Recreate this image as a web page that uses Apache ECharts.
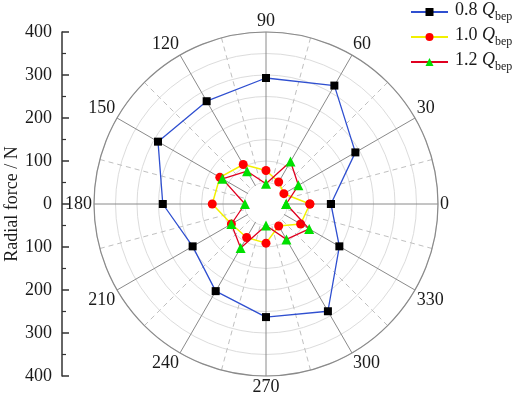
<!DOCTYPE html>
<html>
<head>
<meta charset="utf-8">
<script src="https://cdn.jsdelivr.net/npm/echarts@6/dist/echarts.min.js"></script>
<style>
  html, body { margin: 0; padding: 0; background: #fff; }
  #main { width: 519px; height: 396px; }
</style>
</head>
<body>
<div id="main"></div>
<script>
var FONT = "'Times New Roman', 'Liberation Serif', serif";

// angles in degrees, last one closes the loop
var angles = [0, 30, 60, 90, 120, 150, 180, 210, 240, 270, 300, 330, 360];
var flow08 = [151, 240, 318, 293, 276, 290, 240, 197, 234, 263, 288, 197, 151];
var flow10 = [102, 48, 59, 78, 106, 124, 125, 93, 90, 91, 59, 93, 102];
var flow12 = [47, 87, 114, 47, 88, 117, 49, 93, 118, 50, 95, 116, 47];
var seriesNames = ['0.8', '1.0', '1.2'];

function toPolar(vals){
  var out = [];
  for (var i = 0; i < vals.length; i++) {
    out.push([vals[i], angles[i]]);
  }
  return out;
}

var chart = echarts.init(document.getElementById('main'));

var option = {
  animation: false,
  backgroundColor: '#fff',
  textStyle: { fontFamily: FONT },
  legend: {
    orient: 'vertical',
    left: 410,
    top: 1,
    padding: 0,
    itemWidth: 37,
    itemHeight: 10,
    itemGap: 3,
    data: seriesNames,
    formatter: function(name){
      return '{n|' + name + ' }{q|Q}{s|bep}';
    },
    textStyle: {
      fontFamily: FONT,
      color: '#1a1a1a',
      padding: [0, 0, 0, 2],
      rich: {
        n: { fontSize: 18, fontFamily: FONT, color: '#1a1a1a', verticalAlign: 'top', lineHeight: 22 },
        q: { fontSize: 18, fontFamily: FONT, fontStyle: 'italic', color: '#1a1a1a', verticalAlign: 'top', lineHeight: 22 },
        s: { fontSize: 12, fontFamily: FONT, color: '#1a1a1a', verticalAlign: 'bottom', lineHeight: 22 }
      }
    }
  },
  grid: {
    left: 62,
    top: 32,
    height: 344,
    width: 1
  },
  xAxis: { type: 'value', show: false },
  yAxis: {
    type: 'value',
    min: -400,
    max: 400,
    interval: 100,
    name: 'Radial force / N',
    nameLocation: 'middle',
    nameGap: 38,
    nameTextStyle: { fontFamily: FONT, fontSize: 18, color: '#1a1a1a' },
    axisLine: { show: true, lineStyle: { color: '#333', width: 1.5 } },
    axisTick: { show: true, inside: true, length: 7, lineStyle: { color: '#333', width: 1.5 } },
    minorTick: { show: true, splitNumber: 2, length: 4, lineStyle: { color: '#333', width: 1.2 } },
    splitLine: { show: false },
    axisLabel: {
      fontFamily: FONT,
      fontSize: 18,
      color: '#1a1a1a',
      margin: 10,
      formatter: function(v){ return Math.abs(v); }
    }
  },
  polar: {
    center: [266, 204],
    radius: 172
  },
  angleAxis: {
    type: 'value',
    min: 0,
    max: 360,
    interval: 30,
    startAngle: 0,
    clockwise: false,
    axisLine: { show: true, lineStyle: { color: '#8a8a8a', width: 1.2 } },
    axisTick: { show: false },
    minorTick: { show: false, splitNumber: 2 },
    splitLine: { show: true, lineStyle: { color: '#8a8a8a', width: 1 } },
    minorSplitLine: { show: true, lineStyle: { color: '#c0c0c0', width: 1, type: [5, 4] } },
    axisLabel: {
      fontFamily: FONT,
      fontSize: 18,
      color: '#1a1a1a',
      margin: 2,
      formatter: function(v){ return v === 360 ? '' : v; }
    }
  },
  radiusAxis: {
    type: 'value',
    min: 0,
    max: 400,
    interval: 50,
    axisLine: { show: false },
    axisTick: { show: false },
    axisLabel: { show: false },
    splitLine: { show: true, lineStyle: { color: '#dcdcdc', width: 1 } }
  },
  graphic: [{
    type: 'circle',
    shape: { cx: 266, cy: 204, r: 21 },
    style: { fill: '#fff' },
    z: 1,
    silent: true
  }],
  series: [
    {
      name: '0.8',
      type: 'line',
      coordinateSystem: 'polar',
      data: toPolar(flow08),
      symbol: 'rect',
      symbolSize: 8,
      lineStyle: { color: '#2f4fd0', width: 1.3 },
      itemStyle: { color: '#000' },
      z: 3
    },
    {
      name: '1.0',
      type: 'line',
      coordinateSystem: 'polar',
      data: toPolar(flow10),
      symbol: 'circle',
      symbolSize: 9,
      lineStyle: { color: '#f2f000', width: 1.5 },
      itemStyle: { color: '#ff0000' },
      z: 3
    },
    {
      name: '1.2',
      type: 'line',
      coordinateSystem: 'polar',
      data: toPolar(flow12),
      symbol: 'triangle',
      symbolSize: 10,
      lineStyle: { color: '#e00020', width: 1.3 },
      itemStyle: { color: '#00e000' },
      z: 4
    }
  ]
};

chart.setOption(option);
</script>
</body>
</html>
